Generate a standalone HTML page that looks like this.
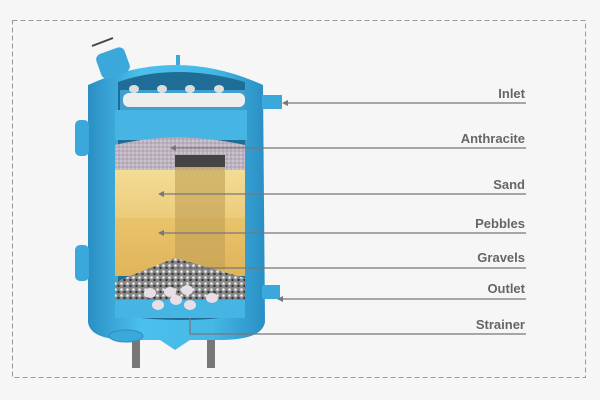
<!DOCTYPE html>
<html><head><style>
body{margin:0;background:#fff;width:600px;height:400px;overflow:hidden}
</style></head><body>
<svg width="600" height="400" viewBox="0 0 600 400" xmlns="http://www.w3.org/2000/svg">
<defs>
<linearGradient id="body" x1="0" x2="1">
<stop offset="0" stop-color="#2a8fc4"/><stop offset="0.3" stop-color="#4cc0ec"/><stop offset="0.7" stop-color="#45b8e6"/><stop offset="1" stop-color="#2a8fc4"/>
</linearGradient>
<linearGradient id="sand" x1="0" y1="0" x2="0" y2="1">
<stop offset="0" stop-color="#f3dc96"/><stop offset="1" stop-color="#eccb7a"/>
</linearGradient>
<linearGradient id="peb" x1="0" y1="0" x2="0" y2="1">
<stop offset="0" stop-color="#e9c36c"/><stop offset="1" stop-color="#e0b45a"/>
</linearGradient>
<pattern id="grav" width="6" height="6" patternUnits="userSpaceOnUse">
<rect width="6" height="6" fill="#888"/><circle cx="1.5" cy="1.5" r="1.3" fill="#eee"/><circle cx="4.5" cy="4" r="1.2" fill="#333"/>
</pattern>
<pattern id="anth" width="4" height="4" patternUnits="userSpaceOnUse">
<rect width="4" height="4" fill="#bdb3c0"/><circle cx="1" cy="1" r="0.8" fill="#ddd6dd"/><circle cx="3" cy="3" r="0.7" fill="#9c92a0"/>
</pattern>
</defs>
<rect width="600" height="400" fill="#f6f6f6"/>
<rect x="12.5" y="20.5" width="573" height="357" fill="none" stroke="#999" stroke-dasharray="5,3"/>
<rect x="132" y="330" width="8" height="38" fill="#777"/>
<rect x="207" y="330" width="8" height="38" fill="#777"/>
<path d="M88 85 Q175 45 263 85 L265 322 Q262 340 220 340 L190 340 L175 350 L160 340 L130 340 Q90 340 88 322 Z" fill="url(#body)"/>
<rect x="75" y="120" width="14" height="36" rx="5" fill="#3aa8da"/>
<rect x="75" y="245" width="14" height="36" rx="5" fill="#3aa8da"/>
<rect x="262" y="95" width="20" height="14" fill="#3aa8da"/>
<rect x="262" y="285" width="18" height="14" fill="#3aa8da"/>
<ellipse cx="126" cy="336" rx="17" ry="6" fill="#3aa8da" stroke="#2a8fc4"/>
<rect x="98" y="50" width="30" height="26" rx="6" fill="#3aa8da" transform="rotate(-20 113 63)"/>
<line x1="92" y1="46" x2="113" y2="38" stroke="#444" stroke-width="2"/>
<rect x="176" y="55" width="4" height="10" fill="#3aa8da"/>
<path d="M118 82 Q175 62 245 82 L245 315 Q180 325 118 315 Z" fill="#1f6d96"/>
<rect x="120" y="90" width="125" height="20" fill="#3f9fcf"/>
<rect x="123" y="93" width="122" height="14" rx="6" fill="#eee"/>
<g fill="#ddd"><ellipse cx="134" cy="89" rx="5" ry="4"/><ellipse cx="162" cy="89" rx="5" ry="4"/><ellipse cx="190" cy="89" rx="5" ry="4"/><ellipse cx="219" cy="89" rx="5" ry="4"/></g>
<rect x="115" y="110" width="132" height="30" fill="#46b5e3"/>
<path d="M115 145 Q175 130 245 145 L245 175 L115 175 Z" fill="url(#anth)"/>
<rect x="115" y="170" width="130" height="50" fill="url(#sand)"/>
<rect x="115" y="218" width="130" height="58" fill="url(#peb)"/>
<rect x="175" y="155" width="50" height="115" fill="#bfa055" opacity="0.6"/>
<rect x="175" y="155" width="50" height="12" fill="#444"/>
<path d="M115 282 L175 258 L245 278 L245 305 L115 305 Z" fill="url(#grav)"/>
<rect x="115" y="300" width="130" height="18" fill="#46b5e3"/>
<g fill="#e6e0e6"><ellipse cx="150" cy="293" rx="6" ry="5"/><ellipse cx="170" cy="292" rx="6" ry="5"/><ellipse cx="187" cy="290" rx="6" ry="5"/><ellipse cx="158" cy="305" rx="6" ry="5"/><ellipse cx="176" cy="300" rx="6" ry="5"/><ellipse cx="190" cy="305" rx="6" ry="5"/><ellipse cx="212" cy="298" rx="6" ry="5"/></g>
<g stroke="#777" stroke-width="1.3" fill="none">
<line x1="288" y1="103" x2="526" y2="103"/>
<line x1="175" y1="148" x2="526" y2="148"/>
<line x1="163" y1="194" x2="526" y2="194"/>
<line x1="163" y1="233" x2="526" y2="233"/>
<line x1="175" y1="268" x2="526" y2="268"/>
<line x1="283" y1="299" x2="526" y2="299"/>
<polyline points="190,318 190,334 526,334"/>
</g>
<g fill="#777">
<path d="M282 103 l6 -3 v6z"/><path d="M277 299 l6 -3 v6z"/>
<path d="M170 148 l6 -3 v6z"/><path d="M158 194 l6 -3 v6z"/><path d="M158 233 l6 -3 v6z"/>
</g>
<g font-family="Liberation Sans, sans-serif" font-weight="bold" font-size="13" fill="#666" text-anchor="end">
<text x="525" y="98">Inlet</text>
<text x="525" y="143">Anthracite</text>
<text x="525" y="189">Sand</text>
<text x="525" y="228">Pebbles</text>
<text x="525" y="262">Gravels</text>
<text x="525" y="293">Outlet</text>
<text x="525" y="329">Strainer</text>
</g>
</svg>
</body></html>
